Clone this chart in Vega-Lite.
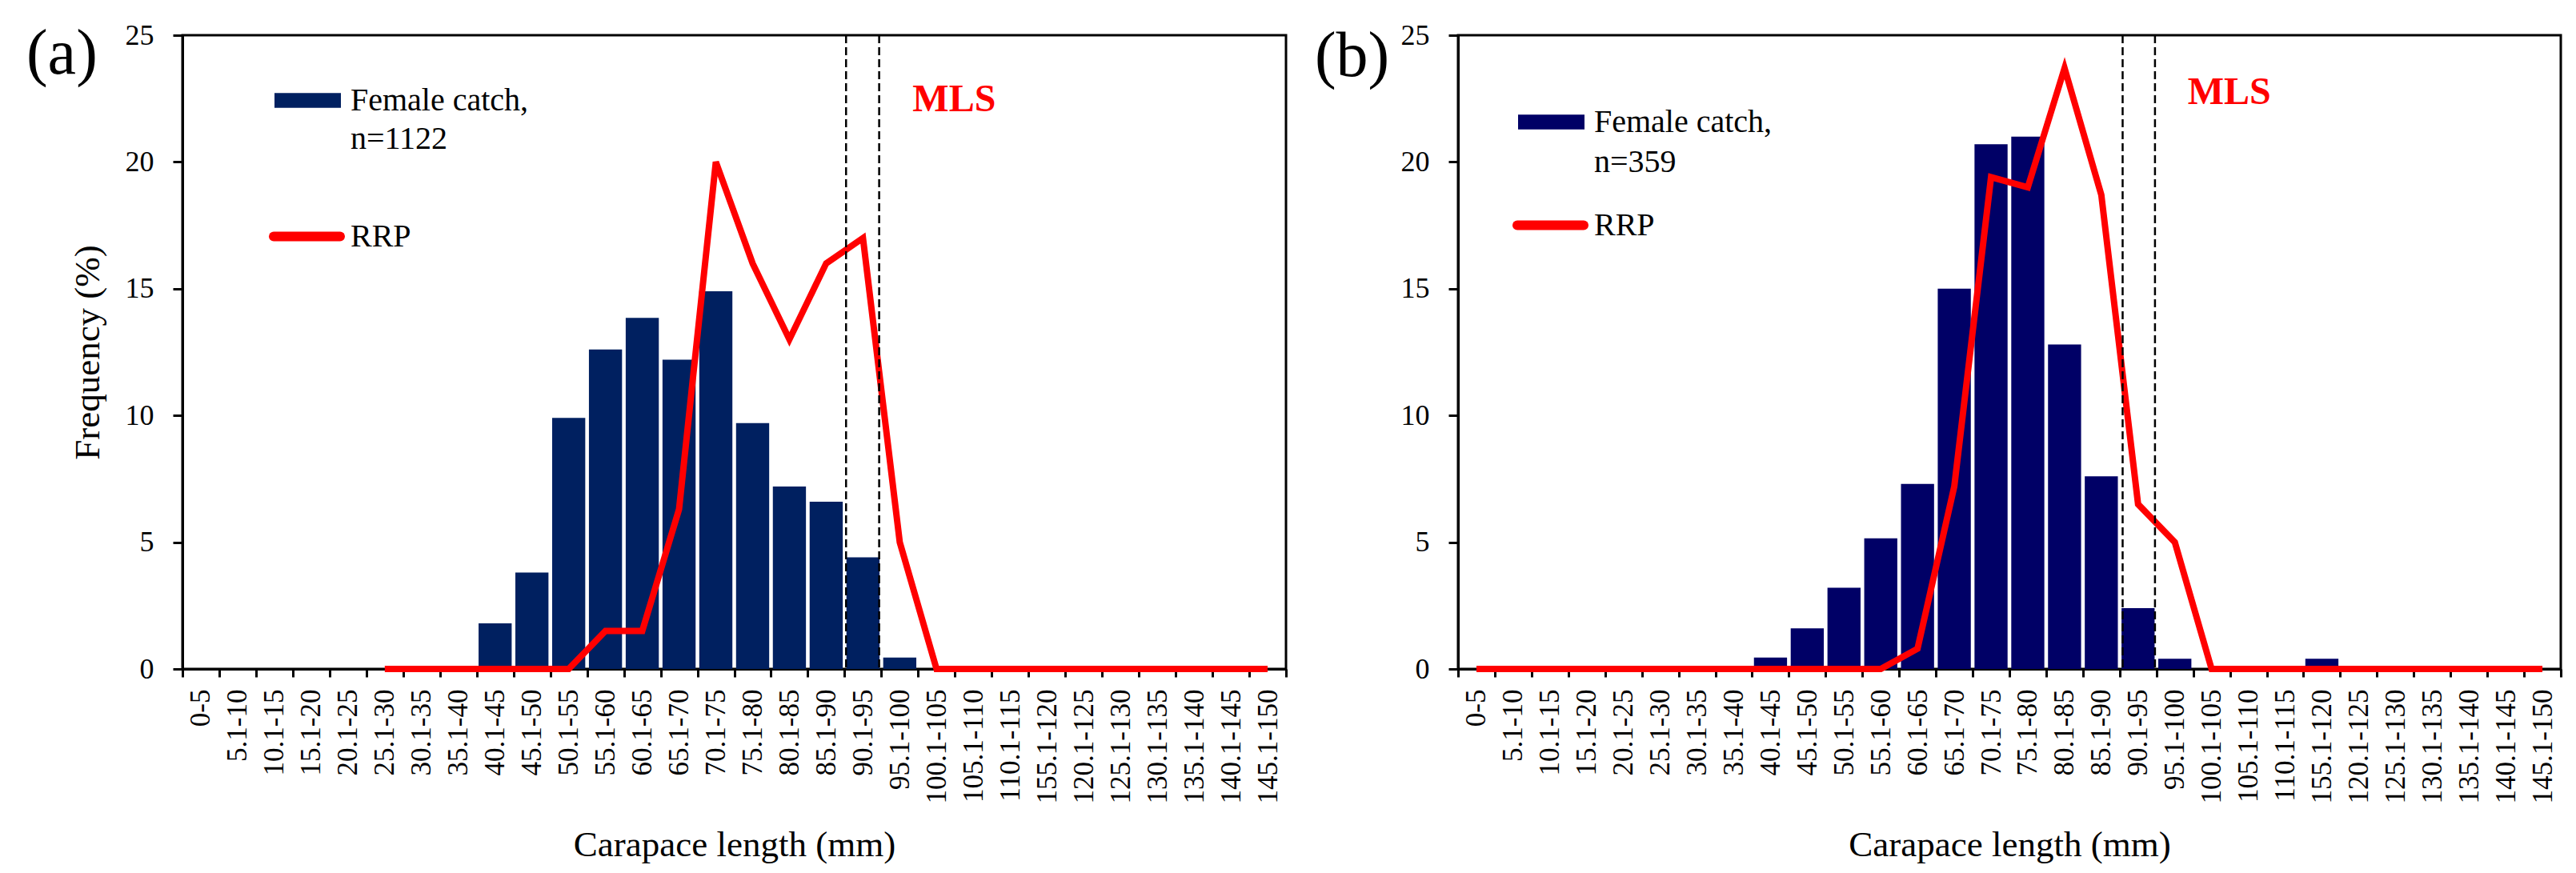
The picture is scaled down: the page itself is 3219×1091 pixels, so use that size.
{
  "$schema": "https://vega.github.io/schema/vega-lite/v6.json",
  "background": "white",
  "padding": {"left": 31, "top": 24, "right": 0, "bottom": 0},
  "spacing": 31,
  "config": {
    "view": {"stroke": "black", "strokeWidth": 3},
    "font": "Liberation Serif",
    "axis": {
      "domainColor": "black", "domainWidth": 3,
      "tickColor": "black", "tickWidth": 3,
      "labelColor": "black", "labelFont": "Liberation Serif",
      "titleColor": "black", "titleFont": "Liberation Serif", "titleFontWeight": "normal", "titleFontSize": 45,
      "grid": false, "labelOverlap": false, "labelLimit": 0
    },
    "axisX": {"tickBand": "extent", "labelAngle": -90, "labelFontSize": 35, "labelPadding": 15, "tickSize": 10, "titlePadding": 30},
    "axisY": {"labelFontSize": 36, "labelPadding": 24, "tickSize": 12, "titlePadding": 24}
  },
  "resolve": {
    "scale": {"fill": "independent", "stroke": "independent"},
    "legend": {"fill": "independent", "stroke": "independent"}
  },
  "datasets": {
    "a": [
      {"cl": "0-5", "catch": 0, "rrp": null},
      {"cl": "5.1-10", "catch": 0, "rrp": null},
      {"cl": "10.1-15", "catch": 0, "rrp": null},
      {"cl": "15.1-20", "catch": 0, "rrp": null},
      {"cl": "20.1-25", "catch": 0, "rrp": null},
      {"cl": "25.1-30", "catch": 0, "rrp": 0},
      {"cl": "30.1-35", "catch": 0, "rrp": 0},
      {"cl": "35.1-40", "catch": 0, "rrp": 0},
      {"cl": "40.1-45", "catch": 1.8, "rrp": 0},
      {"cl": "45.1-50", "catch": 3.8, "rrp": 0},
      {"cl": "50.1-55", "catch": 9.9, "rrp": 0},
      {"cl": "55.1-60", "catch": 12.6, "rrp": 1.5},
      {"cl": "60.1-65", "catch": 13.85, "rrp": 1.5},
      {"cl": "65.1-70", "catch": 12.2, "rrp": 6.3},
      {"cl": "70.1-75", "catch": 14.9, "rrp": 20},
      {"cl": "75.1-80", "catch": 9.7, "rrp": 16},
      {"cl": "80.1-85", "catch": 7.2, "rrp": 13},
      {"cl": "85.1-90", "catch": 6.6, "rrp": 16},
      {"cl": "90.1-95", "catch": 4.4, "rrp": 17},
      {"cl": "95.1-100", "catch": 0.45, "rrp": 5},
      {"cl": "100.1-105", "catch": 0, "rrp": 0},
      {"cl": "105.1-110", "catch": 0, "rrp": 0},
      {"cl": "110.1-115", "catch": 0, "rrp": 0},
      {"cl": "155.1-120", "catch": 0, "rrp": 0},
      {"cl": "120.1-125", "catch": 0, "rrp": 0},
      {"cl": "125.1-130", "catch": 0, "rrp": 0},
      {"cl": "130.1-135", "catch": 0, "rrp": 0},
      {"cl": "135.1-140", "catch": 0, "rrp": 0},
      {"cl": "140.1-145", "catch": 0, "rrp": 0},
      {"cl": "145.1-150", "catch": 0, "rrp": 0}
    ],
    "b": [
      {"cl": "0-5", "catch": 0, "rrp": 0},
      {"cl": "5.1-10", "catch": 0, "rrp": 0},
      {"cl": "10.1-15", "catch": 0, "rrp": 0},
      {"cl": "15.1-20", "catch": 0, "rrp": 0},
      {"cl": "20.1-25", "catch": 0, "rrp": 0},
      {"cl": "25.1-30", "catch": 0, "rrp": 0},
      {"cl": "30.1-35", "catch": 0, "rrp": 0},
      {"cl": "35.1-40", "catch": 0, "rrp": 0},
      {"cl": "40.1-45", "catch": 0.45, "rrp": 0},
      {"cl": "45.1-50", "catch": 1.6, "rrp": 0},
      {"cl": "50.1-55", "catch": 3.2, "rrp": 0},
      {"cl": "55.1-60", "catch": 5.15, "rrp": 0},
      {"cl": "60.1-65", "catch": 7.3, "rrp": 0.8},
      {"cl": "65.1-70", "catch": 15.0, "rrp": 7.2},
      {"cl": "70.1-75", "catch": 20.7, "rrp": 19.4},
      {"cl": "75.1-80", "catch": 21.0, "rrp": 19.0},
      {"cl": "80.1-85", "catch": 12.8, "rrp": 23.7},
      {"cl": "85.1-90", "catch": 7.6, "rrp": 18.7},
      {"cl": "90.1-95", "catch": 2.4, "rrp": 6.5},
      {"cl": "95.1-100", "catch": 0.4, "rrp": 5.0},
      {"cl": "100.1-105", "catch": 0, "rrp": 0},
      {"cl": "105.1-110", "catch": 0, "rrp": 0},
      {"cl": "110.1-115", "catch": 0, "rrp": 0},
      {"cl": "155.1-120", "catch": 0.4, "rrp": 0},
      {"cl": "120.1-125", "catch": 0, "rrp": 0},
      {"cl": "125.1-130", "catch": 0, "rrp": 0},
      {"cl": "130.1-135", "catch": 0, "rrp": 0},
      {"cl": "135.1-140", "catch": 0, "rrp": 0},
      {"cl": "140.1-145", "catch": 0, "rrp": 0},
      {"cl": "145.1-150", "catch": 0, "rrp": 0}
    ],
    "mls": [{"cl": "90.1-95"}]
  },
  "hconcat": [
    {
      "width": 1379,
      "height": 792,
      "layer": [
        {
          "data": {"name": "a"},
          "mark": {"type": "bar", "width": {"band": 0.9}},
          "encoding": {
            "x": {"field": "cl", "type": "nominal", "sort": null, "title": "Carapace length (mm)",
              "scale": {"paddingInner": 0, "paddingOuter": 0, "domain": ["0-5","5.1-10","10.1-15","15.1-20","20.1-25","25.1-30","30.1-35","35.1-40","40.1-45","45.1-50","50.1-55","55.1-60","60.1-65","65.1-70","70.1-75","75.1-80","80.1-85","85.1-90","90.1-95","95.1-100","100.1-105","105.1-110","110.1-115","155.1-120","120.1-125","125.1-130","130.1-135","135.1-140","140.1-145","145.1-150"]}},
            "y": {"field": "catch", "type": "quantitative", "title": "Frequency (%)", "scale": {"domain": [0, 25], "nice": false}, "axis": {"values": [0, 5, 10, 15, 20, 25]}},
            "fill": {"datum": "Female catch,|n=1122", "type": "nominal", "scale": {"range": ["#002060"]},
              "legend": {"orient": "none", "legendX": 115, "legendY": 40, "title": null, "padding": 0,
                "symbolType": "M-1,-0.22H1V0.22H-1Z", "symbolSize": 6889, "symbolStrokeWidth": 0, "symbolOffset": 0,
                "labelFont": "Liberation Serif", "labelFontSize": 40, "labelColor": "black", "labelOffset": 12, "labelLimit": 0,
                "labelExpr": "split(datum.label, '|')",
                "encoding": {"labels": {"lineHeight": {"value": 48}}}}}
          }
        },
        {
          "data": {"name": "a"},
          "mark": {"type": "line", "strokeWidth": 8, "strokeJoin": "miter"},
          "encoding": {
            "x": {"field": "cl", "type": "nominal", "sort": null},
            "y": {"field": "rrp", "type": "quantitative"},
            "stroke": {"datum": "RRP", "type": "nominal", "scale": {"range": ["#FF0000"]},
              "legend": {"orient": "none", "legendX": 108, "legendY": 204, "title": null, "padding": 0,
                "symbolType": "stroke", "symbolSize": 6889, "symbolStrokeWidth": 12, "symbolOffset": 0,
                "labelFont": "Liberation Serif", "labelFontSize": 40, "labelColor": "black", "labelOffset": 7, "labelLimit": 0,
                "encoding": {"symbols": {"strokeCap": {"value": "round"}}}}}
          }
        },
        {
          "data": {"name": "mls"},
          "mark": {"type": "rule", "color": "black", "strokeWidth": 2.5, "strokeDash": [10, 5]},
          "encoding": {"x": {"field": "cl", "type": "nominal", "bandPosition": 0.04}}
        },
        {
          "data": {"name": "mls"},
          "mark": {"type": "rule", "color": "black", "strokeWidth": 2.5, "strokeDash": [10, 5]},
          "encoding": {"x": {"field": "cl", "type": "nominal", "bandPosition": 0.94}}
        },
        {
          "data": {"name": "mls"},
          "mark": {"type": "text", "text": "MLS", "align": "left", "baseline": "alphabetic", "fontSize": 48, "fontWeight": "bold", "font": "Liberation Serif", "color": "#FF0000", "dx": 16},
          "encoding": {"x": {"datum": "95.1-100", "type": "nominal"}, "y": {"datum": 22, "type": "quantitative"}}
        },
        {
          "data": {"name": "mls"},
          "mark": {"type": "text", "text": "(a)", "align": "left", "baseline": "alphabetic", "fontSize": 80, "font": "Liberation Serif", "color": "black", "dx": -218},
          "encoding": {"x": {"datum": "0-5", "type": "nominal"}, "y": {"datum": 23.47, "type": "quantitative"}}
        }
      ]
    },
    {
      "width": 1378,
      "height": 792,
      "layer": [
        {
          "data": {"name": "b"},
          "mark": {"type": "bar", "width": {"band": 0.9}},
          "encoding": {
            "x": {"field": "cl", "type": "nominal", "sort": null, "title": "Carapace length (mm)",
              "scale": {"paddingInner": 0, "paddingOuter": 0, "domain": ["0-5","5.1-10","10.1-15","15.1-20","20.1-25","25.1-30","30.1-35","35.1-40","40.1-45","45.1-50","50.1-55","55.1-60","60.1-65","65.1-70","70.1-75","75.1-80","80.1-85","85.1-90","90.1-95","95.1-100","100.1-105","105.1-110","110.1-115","155.1-120","120.1-125","125.1-130","130.1-135","135.1-140","140.1-145","145.1-150"]}},
            "y": {"field": "catch", "type": "quantitative", "title": null, "scale": {"domain": [0, 25], "nice": false}, "axis": {"values": [0, 5, 10, 15, 20, 25]}},
            "fill": {"datum": "Female catch,|n=359", "type": "nominal", "scale": {"range": ["#000066"]},
              "legend": {"orient": "none", "legendX": 75, "legendY": 67, "title": null, "padding": 0,
                "symbolType": "M-1,-0.22H1V0.22H-1Z", "symbolSize": 6889, "symbolStrokeWidth": 0, "symbolOffset": 0,
                "labelFont": "Liberation Serif", "labelFontSize": 40, "labelColor": "black", "labelOffset": 12, "labelLimit": 0,
                "labelExpr": "split(datum.label, '|')",
                "encoding": {"labels": {"lineHeight": {"value": 50}}}}}
          }
        },
        {
          "data": {"name": "b"},
          "mark": {"type": "line", "strokeWidth": 8, "strokeJoin": "miter"},
          "encoding": {
            "x": {"field": "cl", "type": "nominal", "sort": null},
            "y": {"field": "rrp", "type": "quantitative"},
            "stroke": {"datum": "RRP", "type": "nominal", "scale": {"range": ["#FF0000"]},
              "legend": {"orient": "none", "legendX": 68, "legendY": 190, "title": null, "padding": 0,
                "symbolType": "stroke", "symbolSize": 6889, "symbolStrokeWidth": 12, "symbolOffset": 0,
                "labelFont": "Liberation Serif", "labelFontSize": 40, "labelColor": "black", "labelOffset": 7, "labelLimit": 0,
                "encoding": {"symbols": {"strokeCap": {"value": "round"}}}}}
          }
        },
        {
          "data": {"name": "mls"},
          "mark": {"type": "rule", "color": "black", "strokeWidth": 2.5, "strokeDash": [10, 5]},
          "encoding": {"x": {"field": "cl", "type": "nominal", "bandPosition": 0.08}}
        },
        {
          "data": {"name": "mls"},
          "mark": {"type": "rule", "color": "black", "strokeWidth": 2.5, "strokeDash": [10, 5]},
          "encoding": {"x": {"field": "cl", "type": "nominal", "bandPosition": 0.96}}
        },
        {
          "data": {"name": "mls"},
          "mark": {"type": "text", "text": "MLS", "align": "left", "baseline": "alphabetic", "fontSize": 48, "fontWeight": "bold", "font": "Liberation Serif", "color": "#FF0000", "dx": 16},
          "encoding": {"x": {"datum": "95.1-100", "type": "nominal"}, "y": {"datum": 22.3, "type": "quantitative"}}
        },
        {
          "data": {"name": "mls"},
          "mark": {"type": "text", "text": "(b)", "align": "left", "baseline": "alphabetic", "fontSize": 80, "font": "Liberation Serif", "color": "black", "dx": -202},
          "encoding": {"x": {"datum": "0-5", "type": "nominal"}, "y": {"datum": 23.39, "type": "quantitative"}}
        }
      ]
    }
  ]
}
